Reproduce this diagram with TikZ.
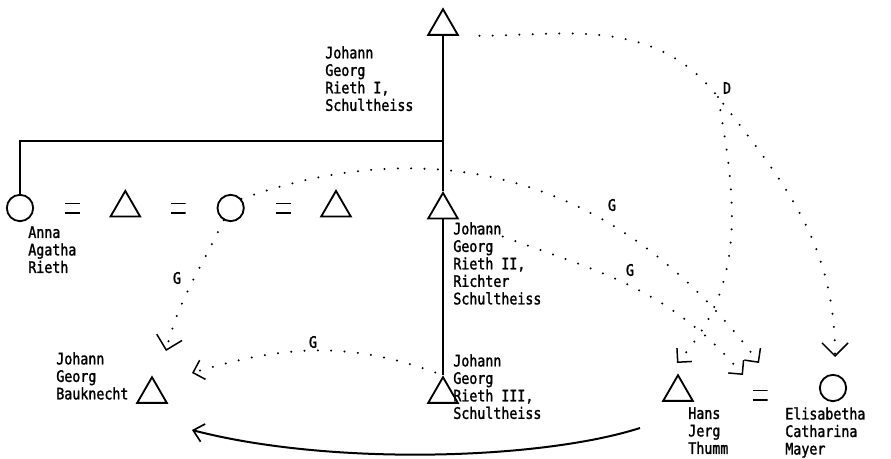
\documentclass[tikz,border=0pt]{standalone}
\usepackage{fontspec}
\usetikzlibrary{positioning,shapes.geometric,arrows.meta}
\newfontfamily\labfont[FakeStretch=0.84,FakeBold=1.6]{DejaVu Sans Mono}

\begin{document}
\begin{tikzpicture}[x=0.6pt,y=0.6pt,node distance=31.6pt,
        male/.style={regular polygon,regular polygon sides=3,draw,line width=1.1pt,minimum size=20.5pt,inner sep=0pt},
        female/.style={circle,draw,line width=1.1pt,minimum size=15.8pt,inner sep=0pt},
        marriage/.style={inner sep=0pt,minimum width=9pt,minimum height=6pt,
            path picture={\draw[line width=1.5pt] (path picture bounding box.north west) -- (path picture bounding box.north east)
                (path picture bounding box.south west) -- (path picture bounding box.south east);}},
        name label/.style={font=\labfont\fontsize{9.5}{10.5}\selectfont,align=left,anchor=north west,inner sep=0pt},
        link/.style={font=\labfont\fontsize{9.5}{10.5}\selectfont,inner sep=0pt},
        kin line/.style={line width=1.2pt},
        dot line/.style={line width=1.35pt,line cap=round,dash pattern=on 0pt off 8pt},
        corner tip/.style={-{Straight Barb[length=6pt,width=12pt,line width=0.9pt]}},
        wide tip/.style={-{Straight Barb[length=7.8pt,width=15.6pt,line width=0.9pt]}},
        open tip/.style={-{Straight Barb[length=6pt,width=11pt,line width=1pt]}}]

            \useasboundingbox (0,0) rectangle (891,458);

            % Rieth line

            \node [male] (t1) at (443,431.7) {};
            \node [male] (t2) at (443,248) {};
            \node [male] (t3) at (443,63.7) {};

            % Marriages

            \foreach \s [
                count = \i,
                evaluate = \i as \iprev using {int(\i-1)},
            ] in {female,marriage,male,marriage,female,marriage,male} {
                \ifnum\i=1
                  \node [\s] (r\i) at (20,250) {};
                \else
                  \node [\s] (r\i) [right of = r\iprev] {};
                \fi
            }

            \node [male] (bauk) at (152,63.7) {};
            \node [male] (thumm) at (678,65.7) {};
            \node [marriage] (r8) at (760,63) {};
            \node [female] (elis) at (833,70) {};

            % Names

            \node [name label] (n1) at (325,412) {Johann\\Georg\\Rieth I,\\Schultheiss};
            \node [name label] (n2) at (28,232) {Anna\\Agatha\\Rieth};
            \node [name label] (n3) at (453,236) {Johann\\Georg\\Rieth II,\\Richter\\Schultheiss};
            \node [name label] (n4) at (453,104) {Johann\\Georg\\Rieth III,\\Schultheiss};
            \node [name label] (n5) at (56,106) {Johann\\Georg\\Bauknecht};
            \node [name label] (n6) at (688,51) {Hans\\Jerg\\Thumm};
            \node [name label] (n7) at (785,51) {Elisabetha\\Catharina\\Mayer};

            % Descent

            \coordinate (sib) at (443,317);
            \draw [kin line] (t1.south) -- (t2.north);
            \draw [kin line] (t2.south) -- (t3.north);
            \draw [kin line] (r1.north) |- (sib);

            % Transfers

            \coordinate (dfork) at (718,361);
            \coordinate (tipE) at (835,101);
            \coordinate (tipT) at (677,95);
            \coordinate (tipM1) at (759,95);
            \coordinate (tipM2) at (743,83);
            \coordinate (tipB1) at (166,107);
            \coordinate (tipB2) at (192,85);
            \coordinate (tipB3) at (192,28);
            \coordinate (srcT) at (640,30);

            \draw [dot line, wide tip, shorten <=12pt] (t1.corner 3) to[out=0,in=128] (dfork) to[out=-52,in=90] (tipE);
            \draw [dot line, corner tip] (dfork) to[out=-80,in=48] (tipT);
            \draw [dot line, corner tip] (r5.40) .. controls (420,323) and (610,295) .. (tipM1);
            \draw [dot line, corner tip, shorten <=12pt] (t2.corner 3) to[out=-22,in=130] (tipM2);
            \draw [dot line, wide tip] (r5.240) to[out=-115,in=76] (tipB1);
            \draw [dot line, corner tip, shorten <=5pt] (t3.north) to[out=160,in=17] (tipB2);
            \draw [kin line, open tip] (srcT) .. controls (540,-2) and (330,-8) .. (tipB3);

            \node [link] (d1) at (727,370) {D};
            \node [link] (g1) at (612,253) {G};
            \node [link] (g2) at (630,188) {G};
            \node [link] (g3) at (177,180) {G};
            \node [link] (g4) at (313,116) {G};
        \end{tikzpicture}
\end{document}
